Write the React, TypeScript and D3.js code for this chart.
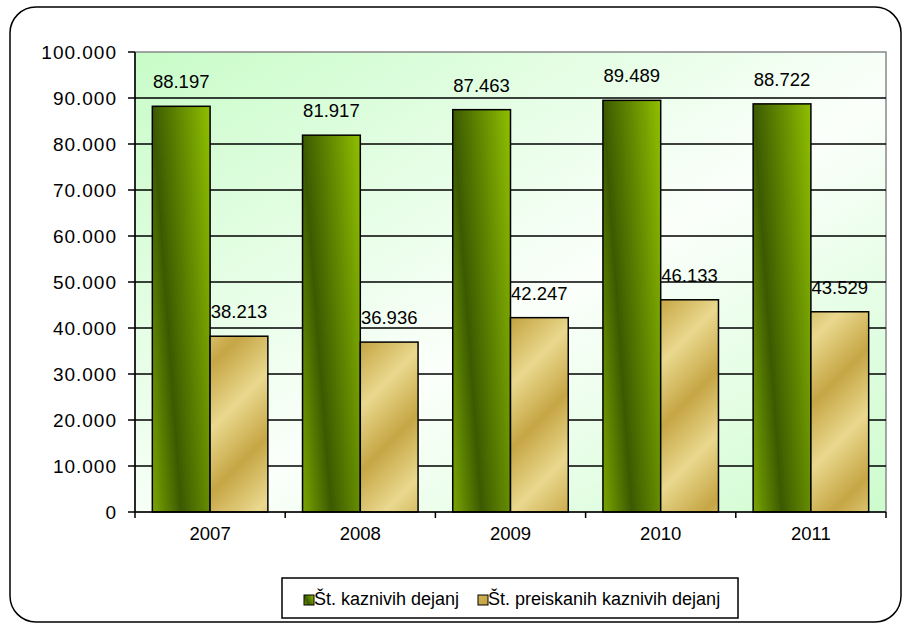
import * as d3 from 'd3';

const YEARS = ['2007', '2008', '2009', '2010', '2011'];
const SERIES = ['Št. kaznivih dejanj', 'Št. preiskanih kaznivih dejanj'];
const KAZNIVA = [88197, 81917, 87463, 89489, 88722];
const PREISKANA = [38213, 36936, 42247, 46133, 43529];
const Y_TICKS = [0, 10000, 20000, 30000, 40000, 50000, 60000, 70000, 80000, 90000, 100000];

const W = 904;
const H = 626;
const PLOT = { left: 135, right: 886, top: 52, bottom: 512 };
const FONT = '"Liberation Sans", Arial, sans-serif';

const locale = d3.formatLocale({ decimal: ',', thousands: '.', grouping: [3], currency: ['', ''] });
const fmt = locale.format(',');

export default function App() {
  const x = d3.scaleBand<string>().domain(YEARS).range([PLOT.left, PLOT.right]);
  const inner = d3
    .scaleBand<string>()
    .domain(SERIES)
    .range([0, x.bandwidth()])
    .paddingInner(0)
    .paddingOuter(0.3);
  const y = d3.scaleLinear().domain([0, 100000]).range([PLOT.bottom, PLOT.top]);

  const values = [KAZNIVA, PREISKANA];
  const fills = ['url(#gGreen)', 'url(#gGold)'];

  // category boundaries for the x tick marks
  const xTicks = [...YEARS.map((d) => x(d) as number), PLOT.right];

  return (
    <svg
      width={W}
      height={H}
      style={{ position: 'absolute', left: 0, top: 0, fontFamily: FONT }}
    >
      <defs>
        <linearGradient id="gGreen" x1={-0.6} y1={0.3} x2={0.9} y2={-0.45}>
          <stop offset="0" stopColor="#9acc00" />
          <stop offset="0.4" stopColor="#3b5a00" />
          <stop offset="1" stopColor="#9acc00" />
        </linearGradient>
        <linearGradient
          id="gGold"
          gradientUnits="userSpaceOnUse"
          x1={0}
          y1={0}
          x2={32}
          y2={32}
          spreadMethod="reflect"
        >
          <stop offset="0" stopColor="#e9d88e" />
          <stop offset="1" stopColor="#c6a645" />
        </linearGradient>
        <linearGradient id="gBg" x1={0} y1={0} x2={1} y2={1}>
          <stop offset="0" stopColor="#c8fcc8" />
          <stop offset="0.55" stopColor="#fbfffb" />
          <stop offset="1" stopColor="#cdfccd" />
        </linearGradient>
      </defs>

      <rect x={0} y={0} width={W} height={H} fill="#fff" />
      <rect
        x={10}
        y={7}
        width={891}
        height={615}
        rx={26}
        ry={26}
        fill="#fff"
        stroke="#000"
        strokeWidth={1.5}
      />

      {/* plot area */}
      <rect
        x={PLOT.left}
        y={PLOT.top}
        width={PLOT.right - PLOT.left}
        height={PLOT.bottom - PLOT.top}
        fill="url(#gBg)"
        stroke="#888"
        strokeWidth={1.5}
      />

      {/* gridlines + y axis */}
      {Y_TICKS.map((t) => (
        <g key={t}>
          {t > 0 && t < 100000 && (
            <line x1={PLOT.left} x2={PLOT.right} y1={y(t)} y2={y(t)} stroke="#000" strokeWidth={1.5} />
          )}
          <line x1={128} x2={PLOT.left} y1={y(t)} y2={y(t)} stroke="#000" strokeWidth={1.5} />
          <text
            x={117}
            y={y(t)}
            dy="0.36em"
            textAnchor="end"
            fontSize={19}
            letterSpacing={1}
            fill="#000"
          >
            {fmt(t)}
          </text>
        </g>
      ))}

      {/* bars */}
      {values.map((vals, si) =>
        vals.map((v, i) => {
          const bx = (x(YEARS[i]) as number) + (inner(SERIES[si]) as number);
          const bw = inner.bandwidth();
          return (
            <g key={si + '-' + i}>
              <rect
                x={bx}
                y={y(v)}
                width={bw}
                height={y(0) - y(v)}
                fill={fills[si]}
                stroke="#000"
                strokeWidth={1.5}
              />
              <text x={bx + bw / 2} y={y(v) - 18} textAnchor="middle" fontSize={18.5} fill="#000">
                {fmt(v)}
              </text>
            </g>
          );
        })
      )}

      {/* axes */}
      <line x1={PLOT.left} x2={PLOT.left} y1={PLOT.top} y2={PLOT.bottom} stroke="#000" strokeWidth={1.5} />
      <line x1={PLOT.left} x2={PLOT.right} y1={PLOT.bottom} y2={PLOT.bottom} stroke="#000" strokeWidth={1.5} />
      {xTicks.map((t, i) => (
        <line key={i} x1={t} x2={t} y1={PLOT.bottom} y2={PLOT.bottom + 6} stroke="#000" strokeWidth={1.5} />
      ))}
      {YEARS.map((yr) => (
        <text
          key={yr}
          x={(x(yr) as number) + x.bandwidth() / 2}
          y={540}
          textAnchor="middle"
          fontSize={18.5}
          fill="#000"
        >
          {yr}
        </text>
      ))}

      {/* legend */}
      <rect x={282} y={578} width={456} height={40} fill="#fff" stroke="#000" strokeWidth={1.5} />
      {SERIES.map((s, i) => {
        const lx = i === 0 ? 304 : 478;
        return (
          <g key={s}>
            <rect x={lx} y={595} width={10} height={10} fill={fills[i]} stroke="#000" strokeWidth={1} />
            <text x={lx + 10} y={605} fontSize={18} fill="#000">
              {s}
            </text>
          </g>
        );
      })}
    </svg>
  );
}
